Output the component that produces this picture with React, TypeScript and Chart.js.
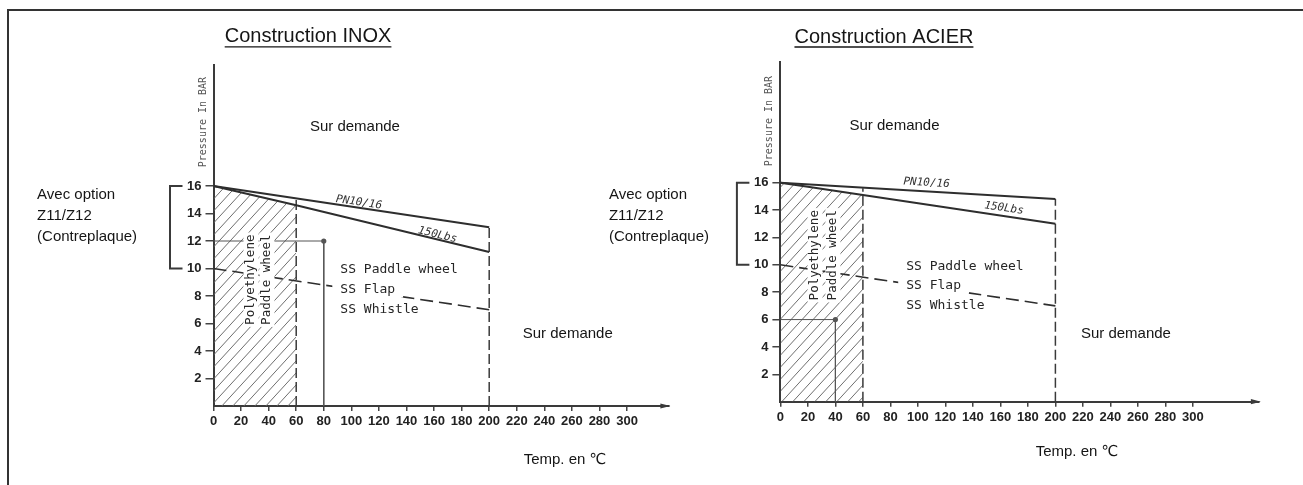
import React, { useEffect, useRef } from "react";
import { Chart, registerables } from "chart.js";

Chart.register(...registerables);

// ---------------- values ----------------
const tempTicks = [0, 20, 40, 60, 80, 100, 120, 140, 160, 180, 200, 220, 240, 260, 280, 300];
const pressureTicks = [2, 4, 6, 8, 10, 12, 14, 16];

// Construction INOX  ([temperature °C, pressure bar])
const inoxPN10_16 = [[0, 16], [200, 13]];
const inox150Lbs = [[0, 16], [60, 14.6], [200, 11.2]];
const inoxSS = [[0, 10], [200, 7]];
const inoxPolyZone = [[0, 16], [60, 14.6]];
const inoxLimit60 = [[60, 0], [60, 15.1]];
const inoxLimit200 = [[200, 0], [200, 13]];
const inoxExample = [[0, 12], [80, 12], [80, 0]];

// Construction ACIER
const acierPN10_16 = [[0, 16], [200, 14.8]];
const acier150Lbs = [[0, 16], [20, 15.7], [60, 15.1], [200, 13]];
const acierSS = [[0, 10], [200, 7]];
const acierPolyZone = [[0, 16], [20, 15.7], [60, 15.1]];
const acierLimit60 = [[60, 0], [60, 15.6]];
const acierLimit200 = [[200, 0], [200, 14.8]];
const acierExample = [[0, 6], [40, 6], [40, 0]];

const optionRange = [10, 16];

// ---------------- texts ----------------
const titleInox = "Construction INOX";
const titleAcier = "Construction ACIER";
const optionLines = ["Avec option", "Z11/Z12", "(Contreplaque)"];
const ssLines = ["SS Paddle wheel", "SS Flap", "SS Whistle"];
const polyLines = ["Polyethylene", "Paddle wheel"];
const onRequest = "Sur demande";
const xTitle = "Temp. en \u2103";
const yTitle = "Pressure In BAR";
const pnLabel = "PN10/16";
const lbsLabel = "150Lbs";

// ---------------- styling ----------------
const SANS = '"Liberation Sans", Arial, "DejaVu Sans", sans-serif';
const CAD = '"DejaVu Sans Mono", monospace';
const TICKFONT = '"Liberation Sans", Arial, sans-serif';
const INK = "#2e2e2e";
const TEXT = "#151515";

type Pt = [number, number];
type Spec = {
  left: number;
  width: number;
  yAxisW: number;
  top: number;
  padRight: number;
  xAxisH: number;
  xMax: number;
  yMax: number;
  title: string;
  pn: number[][];
  lbs: number[][];
  ss: number[][];
  zone: number[][];
  lim60: number[][];
  lim200: number[][];
  example: number[][];
  at: {
    title: Pt;
    sur1: Pt;
    sur2: Pt;
    ssX: number;
    ssY: number[];
    polyX: number[];
    polyY: number;
    pn: Pt;
    lbs: Pt;
    yTitle: Pt;
    xTitle: Pt;
    optX: number;
    optY: number[];
  };
};

const INOX_SPEC: Spec = {
  left: 0,
  width: 700,
  yAxisW: 213.5,
  top: 65,
  padRight: 31.6,
  xAxisH: 79,
  xMax: 330,
  yMax: 24.8,
  title: titleInox,
  pn: inoxPN10_16,
  lbs: inox150Lbs,
  ss: inoxSS,
  zone: inoxPolyZone,
  lim60: inoxLimit60,
  lim200: inoxLimit200,
  example: inoxExample,
  at: {
    title: [68.6, 26.85],
    sur1: [102.6, 20.3],
    sur2: [257, 5.24],
    ssX: 92,
    ssY: [9.9, 8.45, 7.0],
    polyX: [27.2, 38.8],
    polyY: 5.9,
    pn: [105.5, 14.8],
    lbs: [162.5, 12.44],
    yTitle: [-7.6, 20.65],
    xTitle: [255, -3.93],
    optX: -128,
    optY: [15.35, 13.8, 12.3],
  },
};

const ACIER_SPEC: Spec = {
  left: 600,
  width: 703,
  yAxisW: 180.4,
  top: 62.2,
  padRight: 44.1,
  xAxisH: 83.3,
  xMax: 348,
  yMax: 24.8,
  title: titleAcier,
  pn: acierPN10_16,
  lbs: acier150Lbs,
  ss: acierSS,
  zone: acierPolyZone,
  lim60: acierLimit60,
  lim200: acierLimit200,
  example: acierExample,
  at: {
    title: [75.3, 26.64],
    sur1: [83, 20.14],
    sur2: [251.3, 4.95],
    ssX: 91.5,
    ssY: [9.84, 8.45, 6.99],
    polyX: [25.2, 38.2],
    polyY: 7.4,
    pn: [106.3, 15.98],
    lbs: [162.6, 14.13],
    yTitle: [-7.9, 20.5],
    xTitle: [215.7, -3.68],
    optX: -124.7,
    optY: [15.09, 13.56, 12.02],
  },
};

function makeHatch(): CanvasPattern | string {
  const w = 11;
  const h = 12;
  const c = document.createElement("canvas");
  c.width = w;
  c.height = h;
  const g = c.getContext("2d");
  if (!g) return "#ddd";
  g.strokeStyle = "#666";
  g.lineWidth = 0.95;
  for (const dx of [-w, 0, w]) {
    g.beginPath();
    g.moveTo(dx, h);
    g.lineTo(dx + w, 0);
    g.stroke();
  }
  return g.createPattern(c, "repeat") || "#ddd";
}

const pts = (a: number[][]) => a.map(([x, y]) => ({ x, y }));

function makePlugin(spec: Spec) {
  return {
    id: "drawing" + spec.left,
    afterDatasetsDraw(chart: any) {
      const ctx: CanvasRenderingContext2D = chart.ctx;
      const xs = chart.scales.x;
      const ys = chart.scales.y;
      const X = (v: number) => xs.getPixelForValue(v);
      const Y = (v: number) => ys.getPixelForValue(v);
      const area = chart.chartArea;
      const a = spec.at;

      ctx.save();

      // arrow at end of temperature axis
      ctx.fillStyle = "#3a3a3a";
      ctx.beginPath();
      ctx.moveTo(area.right + 2, area.bottom);
      ctx.lineTo(area.right - 8, area.bottom - 2.6);
      ctx.lineTo(area.right - 8, area.bottom + 2.6);
      ctx.closePath();
      ctx.fill();

      // option bracket (10 .. 16 bar)
      const yb0 = Y(optionRange[0]);
      const yb1 = Y(optionRange[1]);
      const bx = area.left - 43.5;
      const bxEnd = area.left - 31;
      ctx.strokeStyle = "#3a3a3a";
      ctx.lineWidth = 2;
      ctx.beginPath();
      ctx.moveTo(bxEnd, yb1);
      ctx.lineTo(bx, yb1);
      ctx.lineTo(bx, yb0);
      ctx.lineTo(bxEnd, yb0);
      ctx.stroke();

      const text = (
        s: string,
        x: number,
        y: number,
        font: string,
        color: string,
        align: CanvasTextAlign = "center",
        rot = 0,
        box = false,
        padX = 2
      ) => {
        ctx.save();
        ctx.translate(x, y);
        if (rot) ctx.rotate(rot);
        ctx.font = font;
        ctx.textAlign = align;
        ctx.textBaseline = "middle";
        if (box) {
          const w = ctx.measureText(s).width;
          const fs = parseFloat(font.replace(/^[^0-9]*/, ""));
          const x0 = align === "center" ? -w / 2 : align === "left" ? 0 : -w;
          ctx.fillStyle = "#ffffff";
          ctx.fillRect(x0 - padX, -fs * 0.6, w + padX * 2, fs * 1.2);
        }
        ctx.fillStyle = color;
        ctx.fillText(s, 0, 0);
        ctx.restore();
      };

      // title with underline
      const tx = X(a.title[0]);
      const ty = Y(a.title[1]);
      ctx.font = `20px ${SANS}`;
      const tw = ctx.measureText(spec.title).width;
      text(spec.title, tx, ty, `20px ${SANS}`, TEXT);
      ctx.strokeStyle = TEXT;
      ctx.lineWidth = 1.3;
      ctx.beginPath();
      ctx.moveTo(tx - tw / 2, ty + 10);
      ctx.lineTo(tx + tw / 2, ty + 10);
      ctx.stroke();

      text(onRequest, X(a.sur1[0]), Y(a.sur1[1]), `15px ${SANS}`, TEXT);
      text(onRequest, X(a.sur2[0]), Y(a.sur2[1]), `15px ${SANS}`, TEXT);
      text(xTitle, X(a.xTitle[0]), Y(a.xTitle[1]), `15px ${SANS}`, TEXT);

      optionLines.forEach((s, i) => {
        text(s, X(a.optX), Y(a.optY[i]), `15px ${SANS}`, TEXT, "left");
      });

      text(yTitle, X(a.yTitle[0]), Y(a.yTitle[1]), `10px ${CAD}`, "#555", "center", -Math.PI / 2);

      ssLines.forEach((s, i) => {
        text(s, X(a.ssX), Y(a.ssY[i]), `13px ${CAD}`, "#262626", "left", 0, i === 1, 8);
      });

      polyLines.forEach((s, i) => {
        text(s, X(a.polyX[i]), Y(a.polyY), `12.5px ${CAD}`, "#262626", "left", -Math.PI / 2, true, 2);
      });

      const angleAt = (series: number[][], v: number) => {
        let k = 0;
        for (let i = 0; i < series.length - 1; i++) if (v >= series[i][0]) k = i;
        const p0 = series[k];
        const p1 = series[k + 1];
        return Math.atan2(Y(p1[1]) - Y(p0[1]), X(p1[0]) - X(p0[0]));
      };
      text(pnLabel, X(a.pn[0]), Y(a.pn[1]), `italic 11px ${CAD}`, "#333", "center", angleAt(spec.pn, a.pn[0]));
      text(lbsLabel, X(a.lbs[0]), Y(a.lbs[1]), `italic 11px ${CAD}`, "#333", "center", angleAt(spec.lbs, a.lbs[0]));

      ctx.restore();
    },
  };
}

function buildConfig(spec: Spec): any {
  const hatch = makeHatch();
  const tickFont = { family: TICKFONT, size: 13, weight: "bold" as const };
  return {
    type: "line",
    data: {
      datasets: [
        {
          label: "Polyethylene zone",
          data: pts(spec.zone),
          fill: "origin",
          backgroundColor: hatch,
          borderColor: "rgba(0,0,0,0)",
          borderWidth: 1,
          pointRadius: 0,
          order: 10,
        },
        {
          label: pnLabel,
          data: pts(spec.pn),
          borderColor: INK,
          borderWidth: 2,
          pointRadius: 0,
          fill: false,
          order: 1,
        },
        {
          label: lbsLabel,
          data: pts(spec.lbs),
          borderColor: INK,
          borderWidth: 2,
          pointRadius: 0,
          fill: false,
          order: 1,
        },
        {
          label: "SS",
          data: pts(spec.ss),
          borderColor: INK,
          borderWidth: 1.6,
          borderDash: [13, 6],
          pointRadius: 0,
          fill: false,
          order: 2,
        },
        {
          label: "limit 60",
          data: pts(spec.lim60),
          borderColor: "#3a3a3a",
          borderWidth: 1.5,
          borderDash: [10, 4],
          pointRadius: 0,
          fill: false,
          order: 2,
        },
        {
          label: "limit 200",
          data: pts(spec.lim200),
          borderColor: "#3a3a3a",
          borderWidth: 1.5,
          borderDash: [10, 4],
          pointRadius: 0,
          fill: false,
          order: 2,
        },
        {
          label: "example",
          data: pts(spec.example),
          borderColor: "#555",
          borderWidth: 1,
          pointRadius: [0, 2.6, 0],
          pointBackgroundColor: "#555",
          pointBorderWidth: 0,
          fill: false,
          order: 3,
        },
      ],
    },
    options: {
      animation: false,
      responsive: false,
      maintainAspectRatio: false,
      events: [],
      layout: { padding: { left: 0, top: spec.top, right: spec.padRight, bottom: 0 } },
      plugins: {
        legend: { display: false },
        tooltip: { enabled: false },
        title: { display: false },
      },
      scales: {
        x: {
          type: "linear",
          min: 0,
          max: spec.xMax,
          afterFit: (s: any) => {
            s.height = spec.xAxisH;
          },
          border: { display: true, color: "#3a3a3a", width: 2 },
          grid: { drawOnChartArea: false, drawTicks: true, tickLength: 5, color: "#444", lineWidth: 1.5 },
          ticks: {
            stepSize: 20,
            autoSkip: false,
            maxRotation: 0,
            padding: 3,
            color: "#222",
            font: tickFont,
            callback: (v: any) => (tempTicks.includes(Number(v)) ? String(v) : null),
          },
        },
        y: {
          type: "linear",
          min: 0,
          max: spec.yMax,
          afterFit: (s: any) => {
            s.width = spec.yAxisW;
          },
          border: { display: true, color: "#3a3a3a", width: 2 },
          grid: { drawOnChartArea: false, drawTicks: true, tickLength: 8, color: "#444", lineWidth: 1.5 },
          ticks: {
            stepSize: 2,
            autoSkip: false,
            padding: 4,
            color: "#222",
            font: tickFont,
            callback: (v: any) => (pressureTicks.includes(Number(v)) ? String(v) : null),
          },
        },
      },
    },
    plugins: [makePlugin(spec)],
  };
}

function PressureChart({ spec }: { spec: Spec }) {
  const ref = useRef<HTMLCanvasElement>(null);
  useEffect(() => {
    if (!ref.current) return;
    const chart = new Chart(ref.current, buildConfig(spec));
    return () => chart.destroy();
  }, [spec]);
  return (
    <canvas
      ref={ref}
      width={spec.width}
      height={485}
      style={{ position: "absolute", left: spec.left, top: 0, width: spec.width, height: 485 }}
    />
  );
}

export default function App() {
  return (
    <div
      style={{
        position: "absolute",
        left: 0,
        top: 0,
        width: 1303,
        height: 485,
        background: "#fff",
        overflow: "hidden",
      }}
    >
      <div
        style={{
          position: "absolute",
          left: 7,
          top: 9,
          width: 1310,
          height: 490,
          borderTop: "2px solid #333",
          borderLeft: "2px solid #333",
        }}
      />
      <PressureChart spec={INOX_SPEC} />
      <PressureChart spec={ACIER_SPEC} />
    </div>
  );
}
